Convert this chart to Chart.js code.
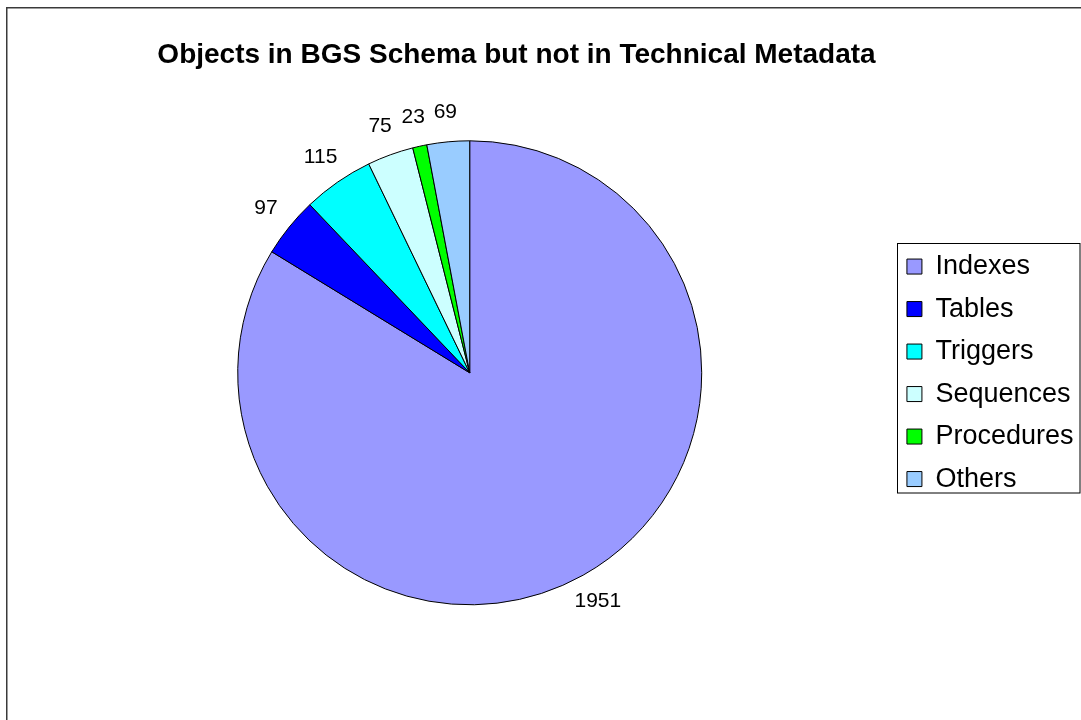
<!DOCTYPE html>
<html>
<head>
<meta charset="utf-8">
<script src="https://cdn.jsdelivr.net/npm/chart.js@4"></script>
<style>
    html, body { margin: 0; padding: 0; background: #fff; }
    #wrap { width: 1081px; height: 720px; }
</style>
</head>
<body>
<div id="wrap"><canvas id="objects-pie" width="1081" height="720"></canvas></div>
<script>
const categories  = ['Indexes', 'Tables', 'Triggers', 'Sequences', 'Procedures', 'Others'];
const objectCount = [1951, 97, 115, 75, 23, 69];

const sliceColors = {
    'Indexes'   : '#9999FF',
    'Tables'    : '#0000FF',
    'Triggers'  : '#00FFFF',
    'Sequences' : '#CCFFFF',
    'Procedures': '#00FF00',
    'Others'    : '#99CCFF'
};

const fontFamily = '"Liberation Sans", Arial, sans-serif';

Chart.defaults.color = '#000';
Chart.defaults.font.family = fontFamily;

// outer frame of the chart area (left and top edges visible)
const frame = {
    id: 'frame',
    beforeDraw(chart) {
        const ctx = chart.ctx;
        ctx.save();
        ctx.strokeStyle = '#3a3a3a';
        ctx.lineWidth = 1.5;
        ctx.strokeRect(6.75, 7.75, chart.width + 20, chart.height + 20);
        ctx.restore();
    }
};

// title sits a bit left of the canvas centre, as in the original
const titleShift = {
    id: 'titleShift',
    afterLayout(chart) {
        chart.titleBlock.left  = 0;
        chart.titleBlock.right = 1033;
    }
};

// border round the legend
const legendBox = {
    id: 'legendBox',
    afterDraw(chart) {
        const boxes = chart.legend.legendHitBoxes;
        if (!boxes || !boxes.length) return;
        const first = boxes[0];
        const last  = boxes[boxes.length - 1];
        const ctx = chart.ctx;
        ctx.save();
        ctx.strokeStyle = '#000';
        ctx.lineWidth = 1;
        const x = Math.round(first.left - 10) + 0.5;
        const y = Math.round(first.top - 10) + 0.5;
        ctx.strokeRect(x, y, 1080 - x, Math.round(last.top + last.height) - y);
        ctx.restore();
    }
};

// value labels outside each slice
const valueLabels = {
    id: 'valueLabels',
    afterDatasetsDraw(chart) {
        const ctx = chart.ctx;
        const meta = chart.getDatasetMeta(0);
        const values = chart.data.datasets[0].data;
        ctx.save();
        ctx.font = '21px ' + fontFamily;
        ctx.fillStyle = '#000';
        ctx.textAlign = 'center';
        ctx.textBaseline = 'middle';
        meta.data.forEach((arc, i) => {
            const p = arc.getProps(['x', 'y', 'startAngle', 'endAngle', 'outerRadius']);
            const mid = (p.startAngle + p.endAngle) / 2;
            const d = p.outerRadius + 30;
            ctx.fillText(values[i], p.x + Math.cos(mid) * d, p.y + Math.sin(mid) * d);
        });
        ctx.restore();
    }
};

const pieCtx = document.getElementById('objects-pie');

new Chart(pieCtx, {
    type: 'pie',
    data: {
        labels: categories,
        datasets: [{
            label: 'Objects',
            data: objectCount,
            backgroundColor : categories.map(c => sliceColors[c]),
            borderColor     : '#000',
            borderWidth     : 1,
            hoverOffset     : 0,
            radius          : 232
        }]
    },
    options: {
        responsive: false,
        animation: false,
        events: [],
        layout: {
            padding: { left: 48, right: -2.5, top: 10, bottom: 115 }
        },
        plugins: {
            title: {
                display: true,
                text: 'Objects in BGS Schema but not in Technical Metadata',
                font: { size: 28, weight: 'bold' },
                padding: { top: 28, bottom: 69 }
            },
            legend: {
                position: 'right',
                fullSize: false,
                labels: {
                    boxWidth  : 15,
                    boxHeight : 15,
                    padding   : 15.5,
                    font      : { size: 27 }
                }
            },
            tooltip: { enabled: false }
        }
    },
    plugins: [frame, titleShift, legendBox, valueLabels]
});
</script>
</body>
</html>
